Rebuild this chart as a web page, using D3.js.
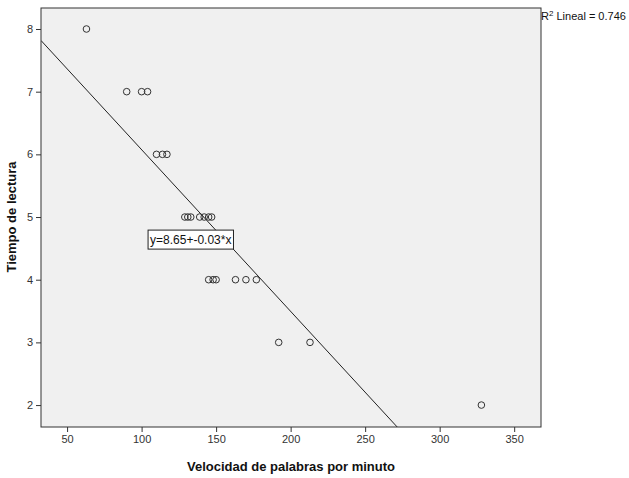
<!DOCTYPE html>
<html>
<head>
<meta charset="utf-8">
<script src="https://cdn.jsdelivr.net/npm/d3@7"></script>
<style>
body { margin: 0; background: #fff; }
svg { display: block; }
</style>
</head>
<body>
<svg id="chart" width="629" height="478"></svg>
<script>
const speed = [63, 90, 100, 104, 110, 114, 117, 129, 131, 133, 139, 142, 145, 147, 145, 148, 150, 163, 170, 177, 192, 213, 328];
const time  = [8, 7, 7, 7, 6, 6, 6, 5, 5, 5, 5, 5, 5, 5, 4, 4, 4, 4, 4, 4, 3, 3, 2];
const xTicks = [50, 100, 150, 200, 250, 300, 350];
const yTicks = [2, 3, 4, 5, 6, 7, 8];
const intercept = 8.655;
const slope = -0.0258;
const eqLabel = "y=8.65+-0.03*x";
const r2Label = "0.746";

const svg = d3.select("#chart");
const L = 41, R = 541, T = 8, B = 427;
const x = d3.scaleLinear().domain([32.5, 368]).range([L, R]);
const y = d3.scaleLinear().domain([1.65, 8.335]).range([B, T]);
const FONT = "Liberation Sans, Arial, sans-serif";

svg.append("rect").attr("x", L).attr("y", T).attr("width", R - L).attr("height", B - T)
  .attr("fill", "#f0f0f0");

svg.append("defs").append("clipPath").attr("id", "clip")
  .append("rect").attr("x", L).attr("y", T).attr("width", R - L).attr("height", B - T);

// regression line
const x0 = x.domain()[0], x1 = x.domain()[1];
svg.append("line").attr("clip-path", "url(#clip)")
  .attr("x1", x(x0)).attr("y1", y(intercept + slope * x0))
  .attr("x2", x(x1)).attr("y2", y(intercept + slope * x1))
  .attr("stroke", "#222").attr("stroke-width", 1);

// points
svg.append("g").selectAll("circle").data(speed).join("circle")
  .attr("cx", d => x(d)).attr("cy", (d, i) => y(time[i])).attr("r", 3.3)
  .attr("fill", "none").attr("stroke", "#333").attr("stroke-width", 1);

// frame
svg.append("rect").attr("x", L).attr("y", T).attr("width", R - L).attr("height", B - T)
  .attr("fill", "none").attr("stroke", "#333").attr("stroke-width", 1);

// axes
const xa = svg.append("g").attr("transform", `translate(0,${B})`)
  .call(d3.axisBottom(x).tickValues(xTicks).tickFormat(d3.format("d")).tickSize(5).tickPadding(3).tickSizeOuter(0));
const ya = svg.append("g").attr("transform", `translate(${L},0)`)
  .call(d3.axisLeft(y).tickValues(yTicks).tickFormat(d3.format("d")).tickSize(5).tickPadding(3).tickSizeOuter(0));
[xa, ya].forEach(a => {
  a.select(".domain").remove();
  a.selectAll("line").attr("stroke", "#333");
  a.selectAll("text").attr("font-family", FONT)
    .attr("font-size", 11).attr("fill", "#333");
});

// equation label
const ex = x(133), ey = y(4.64);
const eqG = svg.append("g");
const box = eqG.append("rect");
const eq = eqG.append("text").attr("x", ex).attr("y", ey + 4.5)
  .attr("text-anchor", "middle").attr("font-family", FONT)
  .attr("font-size", 12).attr("fill", "#111").text(eqLabel);
const bb = eq.node().getBBox();
box.attr("x", bb.x - 2).attr("y", ey - 9.5).attr("width", bb.width + 4).attr("height", 19)
  .attr("fill", "#fff").attr("stroke", "#222").attr("stroke-width", 1);

// R2 label
const r2 = svg.append("text").attr("x", 541).attr("y", 20)
  .attr("font-family", FONT).attr("font-size", 11).attr("fill", "#111");
r2.append("tspan").text("R");
r2.append("tspan").attr("font-size", 8).attr("dy", -4).text("2");
r2.append("tspan").attr("dy", 4).text(" Lineal = " + r2Label);

// axis titles
svg.append("text").attr("x", 291).attr("y", 471).attr("text-anchor", "middle")
  .attr("font-family", FONT).attr("font-weight", "bold")
  .attr("font-size", 13).attr("fill", "#111").text("Velocidad de palabras por minuto");
svg.append("text").attr("transform", "translate(16,217) rotate(-90)").attr("text-anchor", "middle")
  .attr("font-family", FONT).attr("font-weight", "bold")
  .attr("font-size", 13).attr("fill", "#111").text("Tiempo de lectura");
</script>
</body>
</html>
